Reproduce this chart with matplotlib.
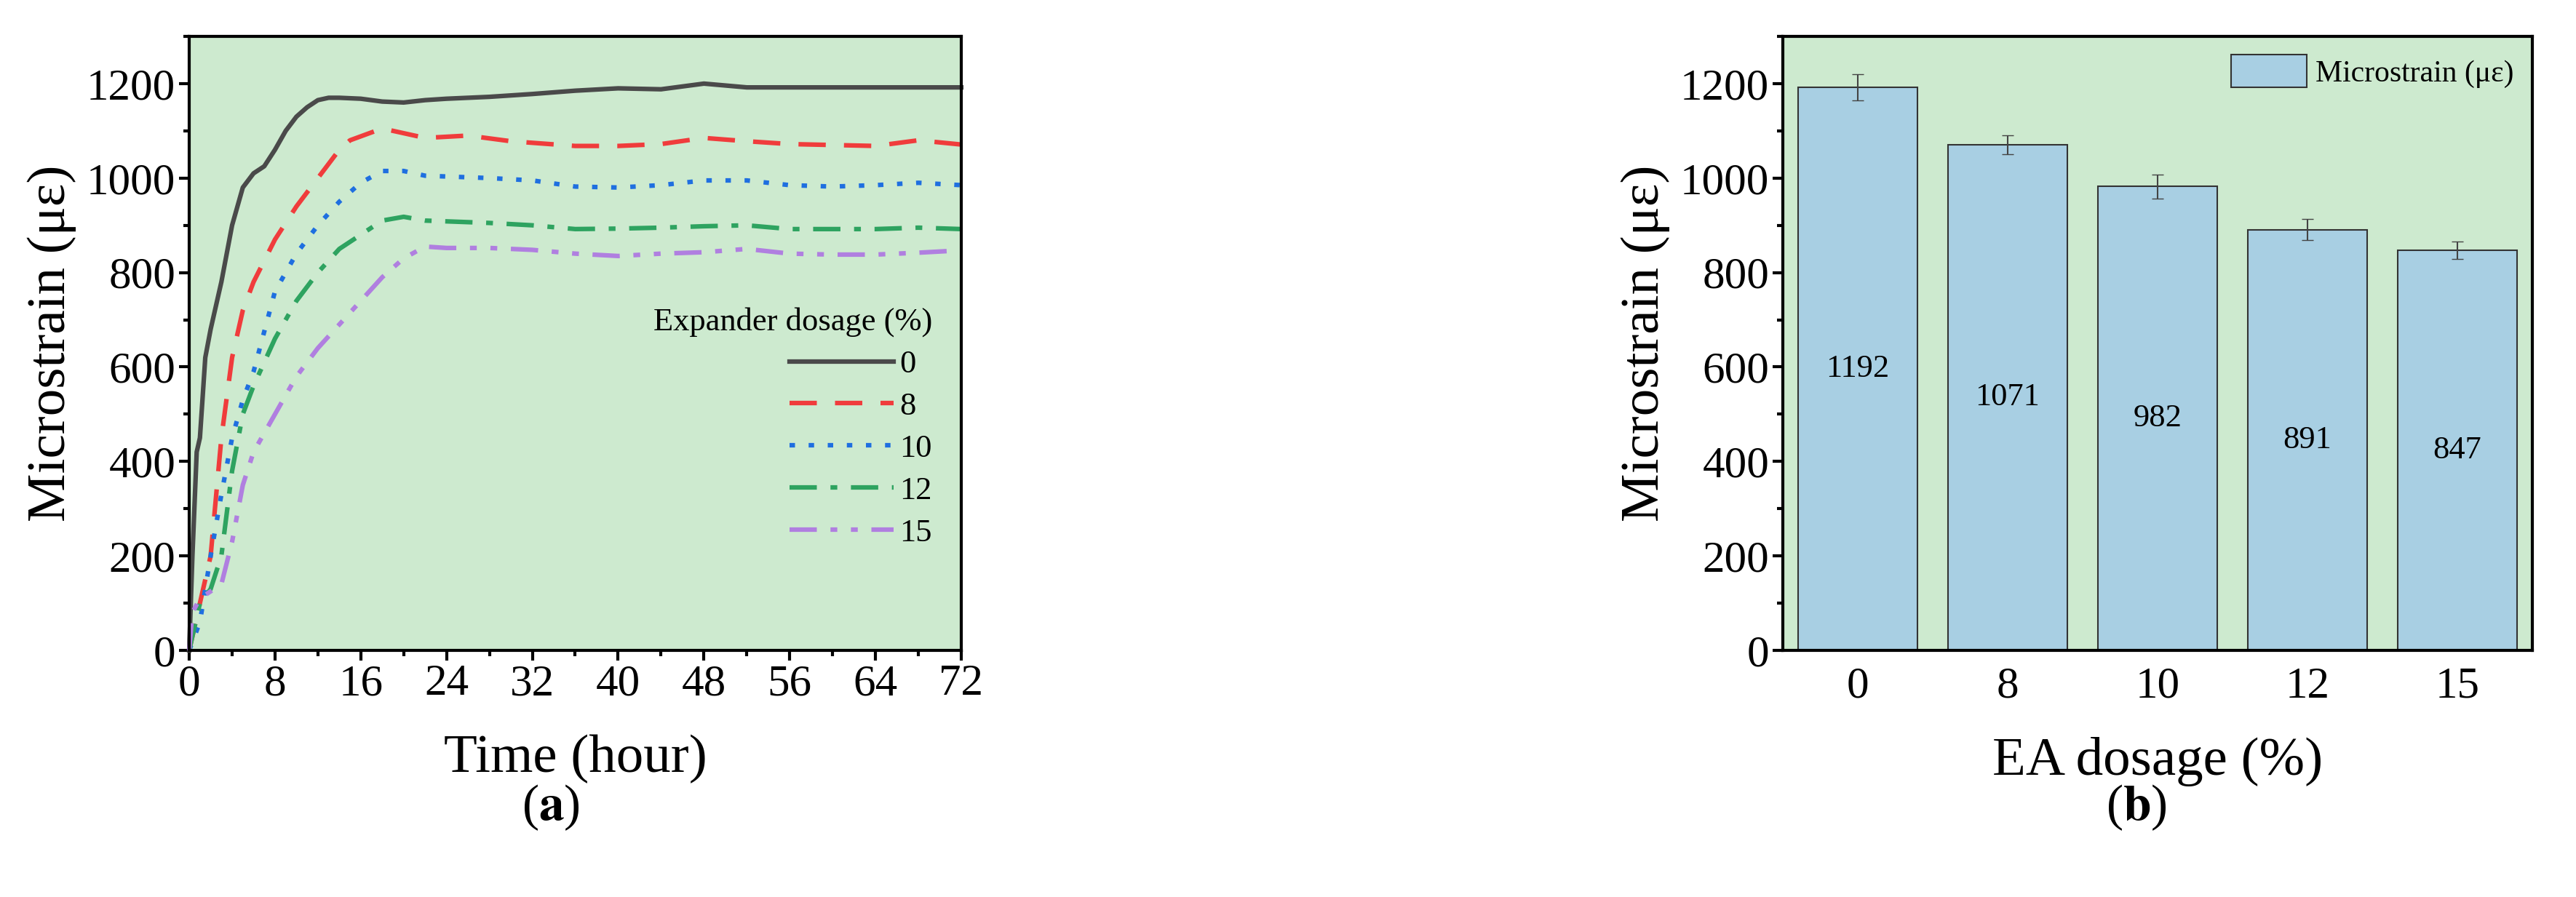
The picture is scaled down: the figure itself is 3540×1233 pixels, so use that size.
import matplotlib
matplotlib.use("Agg")
import matplotlib.pyplot as plt
import numpy as np
from matplotlib.ticker import MultipleLocator

plt.rcParams['font.family'] = 'serif'
plt.rcParams['font.serif'] = ['Liberation Serif', 'Times New Roman', 'DejaVu Serif']
plt.rcParams['mathtext.fontset'] = 'stix'

t0 = [0,0.3,0.7,1,1.5,2,3,4,5,6,7,8,9,10,11,12,13,14,16,18,20,22,24,28,32,36,40,44,48,52,56,60,64,68,72]
y0 = [0,200,420,450,620,680,780,900,980,1010,1025,1060,1100,1130,1150,1165,1170,1170,1168,1162,1160,1165,1168,1172,1178,1185,1190,1188,1200,1192,1192,1192,1192,1192,1192]
t8 = [0,1,2,3,4,5,6,8,10,12,14,15,18,20,22,26,30,36,40,44,48,52,56,60,64,68,72]
y8 = [0,100,200,450,620,720,780,870,940,1000,1060,1080,1105,1095,1085,1090,1078,1068,1068,1072,1085,1078,1072,1070,1068,1080,1071]
t10 = [0,1,2,3,4,5,6,8,10,12,14,16,18,20,22,28,32,36,40,44,48,52,56,60,64,68,72]
y10 = [0,60,200,330,450,530,590,760,840,900,950,990,1015,1015,1005,1000,995,982,980,985,995,995,985,982,985,990,985]
t12 = [0,1,2,3,4,5,6,8,10,12,14,16,18,20,22,28,32,36,40,44,48,52,56,60,64,68,72]
y12 = [0,100,130,200,380,500,560,660,740,800,850,880,910,918,910,905,900,892,893,895,898,900,892,892,892,895,892]
t15 = [0,0.3,1,2,3,4,5,6,8,10,12,14,16,18,20,22,24,28,32,36,40,44,48,52,56,60,64,68,72]
y15 = [0,80,110,125,140,230,350,420,500,580,640,690,740,790,830,855,852,852,848,840,835,840,843,850,840,838,838,842,847]

dosages = ['0', '8', '10', '12', '15']
bar_vals = [1192, 1071, 982, 891, 847]
bar_err = [28, 20, 25, 22, 18]

W, H = 3541, 1233
fig = plt.figure(figsize=(W/100, H/100), dpi=100)
bg = '#cdeacf'

ax1 = fig.add_axes([260/W, 1-894/H, (1321-260)/W, (894-50)/H])
ax1.set_facecolor(bg)
series = [(t0,y0,'0','#4a4a4a','-'),
          (t8,y8,'8','#f03c3c',(0,(6,4))),
          (t10,y10,'10','#1f6fe0',(0,(1.2,3))),
          (t12,y12,'12','#2ea360',(0,(6,3,1.5,3))),
          (t15,y15,'15','#b07fe0',(0,(6,3,1.5,3,1.5,3)))]
for t,y,l,c,ls in series:
    ax1.plot(t,y,color=c,ls=ls,lw=4.5,label=l,clip_on=False)
ax1.set_xlim(0,72); ax1.set_ylim(0,1300)
ax1.xaxis.set_major_locator(MultipleLocator(8)); ax1.xaxis.set_minor_locator(MultipleLocator(4))
ax1.yaxis.set_major_locator(MultipleLocator(200)); ax1.yaxis.set_minor_locator(MultipleLocator(100))
ax1.set_xlabel('Time (hour)', fontsize=54, labelpad=30)
ax1.set_ylabel('Microstrain (με)', fontsize=54, labelpad=10)
leg = ax1.legend(title='Expander dosage (%)', frameon=False, fontsize=32, title_fontsize=32,
                 loc='lower right', bbox_to_anchor=(1.0, 0.12), handlelength=3.2, labelspacing=0.4,
                 handletextpad=0.2)
leg._legend_box.align = 'right'

ax2 = fig.add_axes([2450/W, 1-894/H, (3480-2450)/W, (894-50)/H])
ax2.set_facecolor(bg)
x = np.arange(len(dosages))
bars = ax2.bar(x, bar_vals, width=0.8, color='#a8cfe3', edgecolor='#333333', lw=1.5,
               yerr=bar_err, capsize=6, error_kw=dict(ecolor='#444444', lw=1.5),
               label='Microstrain (με)')
for xi, v in zip(x, bar_vals):
    ax2.text(xi, v/2, str(v), ha='center', va='center', fontsize=32)
ax2.set_xticks(x); ax2.set_xticklabels(dosages)
ax2.set_xlim(-0.5, 4.5); ax2.set_ylim(0, 1300)
ax2.yaxis.set_major_locator(MultipleLocator(200)); ax2.yaxis.set_minor_locator(MultipleLocator(100))
ax2.set_xlabel('EA dosage (%)', fontsize=54, labelpad=30)
ax2.set_ylabel('Microstrain (με)', fontsize=54, labelpad=10)
ax2.legend(loc='upper right', fontsize=30, frameon=False, borderaxespad=0.2, handlelength=2.5, handleheight=1.3,
           handletextpad=0.3)

for ax in (ax1, ax2):
    ax.tick_params(labelsize=44, width=3, length=10, direction='out')
    ax.tick_params(which='minor', width=3, length=6)
    for s in ax.spines.values():
        s.set_linewidth(3)
ax2.tick_params(axis='x', which='both', length=0)
ax2.tick_params(axis='x', pad=16)

fig.text(757/W, 1-1110/H, r'($\mathbf{a}$)', ha='center', va='center', fontsize=50)
fig.text(2936/W, 1-1110/H, r'($\mathbf{b}$)', ha='center', va='center', fontsize=50)
fig.savefig('out.png', dpi=100, facecolor='white')
